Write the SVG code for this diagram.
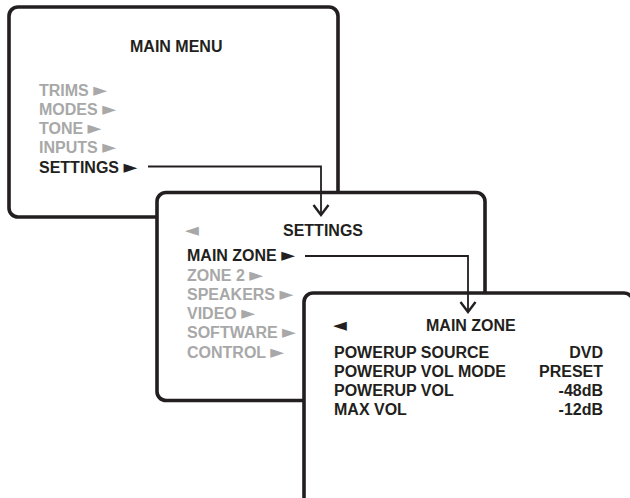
<svg xmlns="http://www.w3.org/2000/svg" width="630" height="498" viewBox="0 0 630 498">
<style>
.box{fill:#fff;stroke:#231f20;stroke-width:3.6}
.t{font-family:"Liberation Sans",Arial,sans-serif;font-weight:bold;font-size:16px;fill:#231f20}
.p{font-family:"DejaVu Sans",sans-serif;font-weight:bold;font-size:18px}
.g{fill:#a8a8a8}
.r{text-anchor:end}
.conn{fill:none;stroke:#231f20;stroke-width:1.8}
</style>
<defs>
<marker id="arr" markerUnits="userSpaceOnUse" markerWidth="20" markerHeight="20" viewBox="-12 -10 14 20" refX="0" refY="0" orient="auto" overflow="visible">
<path d="M-10,-7.5 L0,0 L-10,7.5" fill="none" stroke="#231f20" stroke-width="2.4"/>
</marker>
</defs>
<rect width="630" height="498" fill="#fff"/>
<g id="main-menu">
<rect class="box" x="9" y="7" width="329" height="210" rx="9"/>
<text class="t" x="130" y="52">MAIN MENU</text>
<text class="t g" x="39" y="96">TRIMS <tspan class="p">►</tspan></text>
<text class="t g" x="39" y="115">MODES <tspan class="p">►</tspan></text>
<text class="t g" x="39" y="134">TONE <tspan class="p">►</tspan></text>
<text class="t g" x="39" y="153">INPUTS <tspan class="p">►</tspan></text>
<text class="t" x="39" y="172.5">SETTINGS <tspan class="p">►</tspan></text>
</g>
<g id="settings">
<rect class="box" x="157" y="192.5" width="328" height="208" rx="9"/>
<text class="t g" x="185" y="236"><tspan class="p">◄</tspan></text>
<text class="t" x="283" y="235.5">SETTINGS</text>
<text class="t" x="187" y="261">MAIN ZONE <tspan class="p">►</tspan></text>
<text class="t g" x="187" y="280.5">ZONE 2 <tspan class="p">►</tspan></text>
<text class="t g" x="187" y="299.5">SPEAKERS <tspan class="p">►</tspan></text>
<text class="t g" x="187" y="319">VIDEO <tspan class="p">►</tspan></text>
<text class="t g" x="187" y="338">SOFTWARE <tspan class="p">►</tspan></text>
<text class="t g" x="187" y="357.5">CONTROL <tspan class="p">►</tspan></text>
</g>
<g id="main-zone">
<rect class="box" x="304" y="293" width="329" height="230" rx="9"/>
<text class="t" x="333" y="331"><tspan class="p">◄</tspan></text>
<text class="t" x="426" y="331">MAIN ZONE</text>
<text class="t" x="334" y="357.5">POWERUP SOURCE</text>
<text class="t" x="334" y="377">POWERUP VOL MODE</text>
<text class="t" x="334" y="396">POWERUP VOL</text>
<text class="t" x="334" y="414.5">MAX VOL</text>
<text class="t r" x="603" y="357.5">DVD</text>
<text class="t r" x="603" y="377">PRESET</text>
<text class="t r" x="603" y="396">-48dB</text>
<text class="t r" x="603" y="414.5">-12dB</text>
</g>
<g id="connectors">
<path class="conn" d="M148,166.5 H321 V215" marker-end="url(#arr)"/>
<path class="conn" d="M305,256 H468 V312" marker-end="url(#arr)"/>
</g>
</svg>
